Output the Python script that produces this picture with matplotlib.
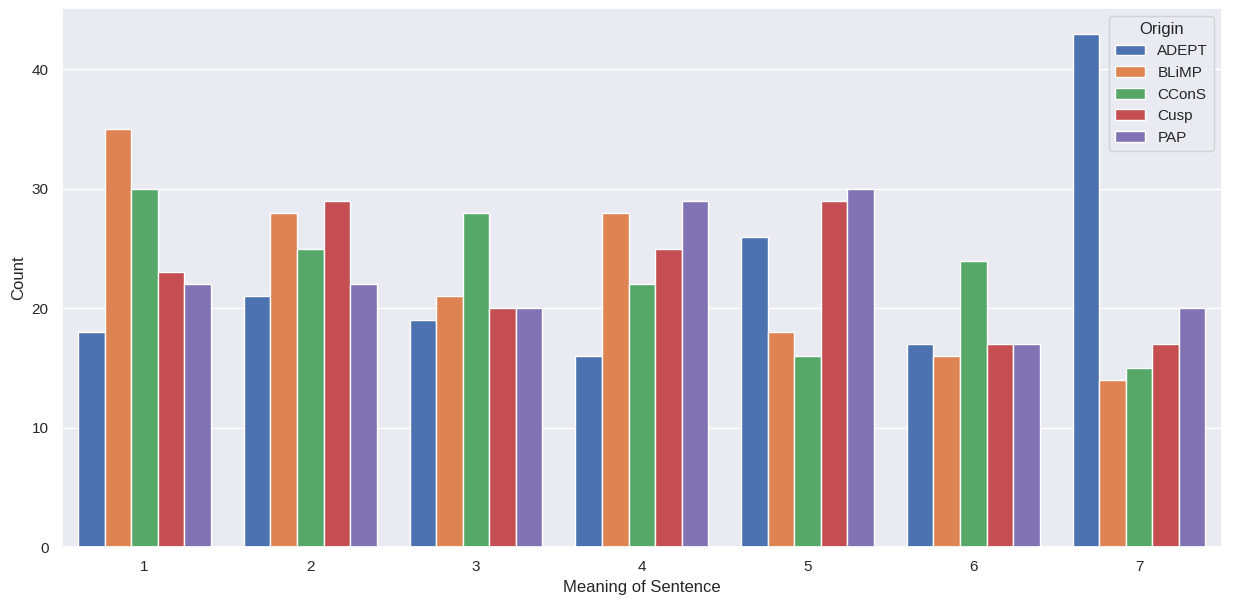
import numpy as np
import pandas as pd
import seaborn as sns
import matplotlib
matplotlib.use("Agg")
import matplotlib.pyplot as plt

meanings = [1, 2, 3, 4, 5, 6, 7]
origins = ["ADEPT", "BLiMP", "CConS", "Cusp", "PAP"]
adept = [18, 21, 19, 16, 26, 17, 43]
blimp = [35, 28, 21, 28, 18, 16, 14]
ccons = [30, 25, 28, 22, 16, 24, 15]
cusp = [23, 29, 20, 25, 29, 17, 17]
pap = [22, 22, 20, 29, 30, 17, 20]

counts = {"ADEPT": adept, "BLiMP": blimp, "CConS": ccons, "Cusp": cusp, "PAP": pap}
rows = []
for o in origins:
    for m, c in zip(meanings, counts[o]):
        rows.append({"Meaning of Sentence": m, "Origin": o, "Count": c})
df = pd.DataFrame(rows)

sns.set_theme()
plt.rcParams['font.family'] = ['Liberation Sans', 'DejaVu Sans']
fig, ax = plt.subplots(figsize=(12.33, 6.06), dpi=100)
sns.barplot(data=df, x="Meaning of Sentence", y="Count", hue="Origin",
            hue_order=origins, palette="deep", saturation=1, ax=ax)
ax.legend(title="Origin", loc="upper right")
fig.subplots_adjust(left=0.050, right=0.991, top=0.987, bottom=0.097)
fig.savefig("out.png")
